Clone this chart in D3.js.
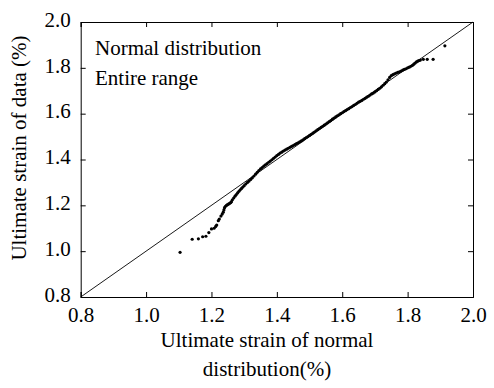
<!DOCTYPE html>
<html><head><meta charset="utf-8">
<script src="https://cdn.jsdelivr.net/npm/d3@7"></script>
<style>body{margin:0;background:#fff}svg{display:block}text{font-family:"Liberation Serif","Times New Roman",Tinos,Times,"DejaVu Serif",serif;fill:#000}</style>
</head><body><svg id="c" width="494" height="388"></svg>
<script>
const xTicks = [0.8, 1.0, 1.2, 1.4, 1.6, 1.8, 2.0];
const yTicks = [0.8, 1.0, 1.2, 1.4, 1.6, 1.8, 2.0];
const theoretical = [1.104,1.141,1.160,1.173,1.183,1.192,1.200,1.208,1.213,1.216,1.221,1.224,1.229,1.233,1.236,1.238,1.240,1.243,1.246,1.249,1.253,1.256,1.259,1.261,
1.264,1.268,1.272,1.276,1.280,1.284,1.288,1.292,1.296,1.300,1.305,1.310,1.315,1.320,1.325,1.330,1.335,1.340,1.345,1.350,1.355,1.360,1.365,1.370,1.375,1.380,1.385,1.390,1.395,1.400,1.405,1.410,1.415,1.420,1.425,1.430,1.435,1.440,1.445,1.450,1.455,1.460,1.465,1.470,1.475,1.480,1.485,1.490,1.495,1.500,1.505,1.510,1.515,1.520,1.525,1.530,1.535,1.540,1.545,1.550,1.555,1.560,1.565,1.570,1.575,1.580,1.585,1.590,1.595,1.600,1.605,1.610,1.615,1.620,1.625,1.630,1.635,1.640,1.645,1.650,1.655,1.660,1.665,1.670,1.675,1.680,1.685,1.690,1.695,1.700,1.705,1.710,1.715,1.720,1.725,1.730,1.735,1.740,1.745,1.750,1.755,1.760,1.765,1.770,1.775,1.780,1.785,1.790,1.795,1.800,1.805,1.810,1.815,1.819,1.823,1.827,1.831,1.835,1.839,1.848,1.860,1.878,1.914];
const observed = [0.995,1.052,1.054,1.063,1.065,1.081,1.097,1.100,1.108,1.114,1.133,1.140,1.153,1.162,1.170,1.180,1.190,1.196,1.200,1.203,1.206,1.209,1.212,1.216,
1.224,1.232,1.240,1.247,1.254,1.261,1.268,1.274,1.280,1.286,1.293,1.300,1.306,1.313,1.320,1.328,1.336,1.344,1.352,1.359,1.365,1.371,1.377,1.382,1.388,1.393,1.399,1.405,1.411,1.417,1.422,1.428,1.432,1.437,1.441,1.445,1.449,1.453,1.457,1.461,1.465,1.469,1.473,1.477,1.481,1.486,1.491,1.496,1.500,1.505,1.510,1.515,1.520,1.525,1.530,1.535,1.540,1.545,1.550,1.555,1.560,1.565,1.570,1.576,1.581,1.586,1.591,1.595,1.600,1.604,1.609,1.613,1.618,1.622,1.627,1.631,1.636,1.640,1.645,1.650,1.654,1.658,1.663,1.667,1.672,1.676,1.681,1.686,1.690,1.695,1.700,1.706,1.711,1.717,1.724,1.731,1.738,1.748,1.758,1.766,1.770,1.774,1.777,1.780,1.783,1.786,1.790,1.793,1.796,1.800,1.803,1.807,1.811,1.816,1.821,1.826,1.829,1.832,1.834,1.837,1.837,1.837,1.896];
const labels = ["Normal distribution", "Entire range"];

const FONT = '"Liberation Serif","Times New Roman",Tinos,Times,"DejaVu Serif",serif';
const svg = d3.select("#c");
const L = 80.7, R = 473, T = 22, B = 297;
const x = d3.scaleLinear().domain([0.8, 2.0]).range([L, R]);
const y = d3.scaleLinear().domain([0.8, 2.0]).range([B, T]);

svg.append("line").attr("x1", x(0.8)).attr("y1", y(0.8)).attr("x2", x(2.0)).attr("y2", y(2.0))
  .attr("stroke", "#000").attr("stroke-width", 0.9);

svg.append("g").selectAll("circle").data(theoretical.map((v, i) => [v, observed[i]])).join("circle")
  .attr("cx", d => x(d[0])).attr("cy", d => y(d[1])).attr("r", 1.6).attr("fill", "#000");

const fmt = d3.format(".1f");
const gx = svg.append("g").attr("transform", `translate(0,${B})`)
  .call(d3.axisBottom(x).tickValues(xTicks).tickSize(-5).tickFormat(fmt));
const gx2 = svg.append("g").attr("transform", `translate(0,${T})`)
  .call(d3.axisTop(x).tickValues(xTicks).tickSize(-5).tickFormat(""));
const gy = svg.append("g").attr("transform", `translate(${L},0)`)
  .call(d3.axisLeft(y).tickValues(yTicks).tickSize(-5).tickFormat(fmt));
const gy2 = svg.append("g").attr("transform", `translate(${R},0)`)
  .call(d3.axisRight(y).tickValues(yTicks).tickSize(-5).tickFormat(""));
[gx, gx2, gy, gy2].forEach(g => {
  g.attr("font-family", null).attr("font-size", null);
  g.select(".domain").attr("stroke", "#000").attr("stroke-width", 1);
  g.selectAll(".tick line").attr("stroke", "#000");
  g.selectAll("text").style("font-family", FONT).style("font-size", "21px").attr("fill", "#000");
});
gx.selectAll(".tick text").attr("y", 10).attr("dy", "0.71em");
gy.selectAll(".tick text").attr("x", -10).attr("dy", "0.2em");

svg.selectAll("text.lab").data(labels).join("text").attr("class", "lab")
  .attr("x", 95).attr("y", (d, i) => 55 + i * 30).style("font-size", "21px").text(d => d);

svg.append("text").attr("x", 267).attr("y", 347).attr("text-anchor", "middle").style("font-size", "21px")
  .text("Ultimate strain of normal");
svg.append("text").attr("x", 267).attr("y", 376).attr("text-anchor", "middle").style("font-size", "21px")
  .text("distribution(%)");
svg.append("text").attr("transform", "translate(26,148) rotate(-90)").attr("text-anchor", "middle").style("font-size", "21px")
  .text("Ultimate strain of data (%)");
</script></body></html>
